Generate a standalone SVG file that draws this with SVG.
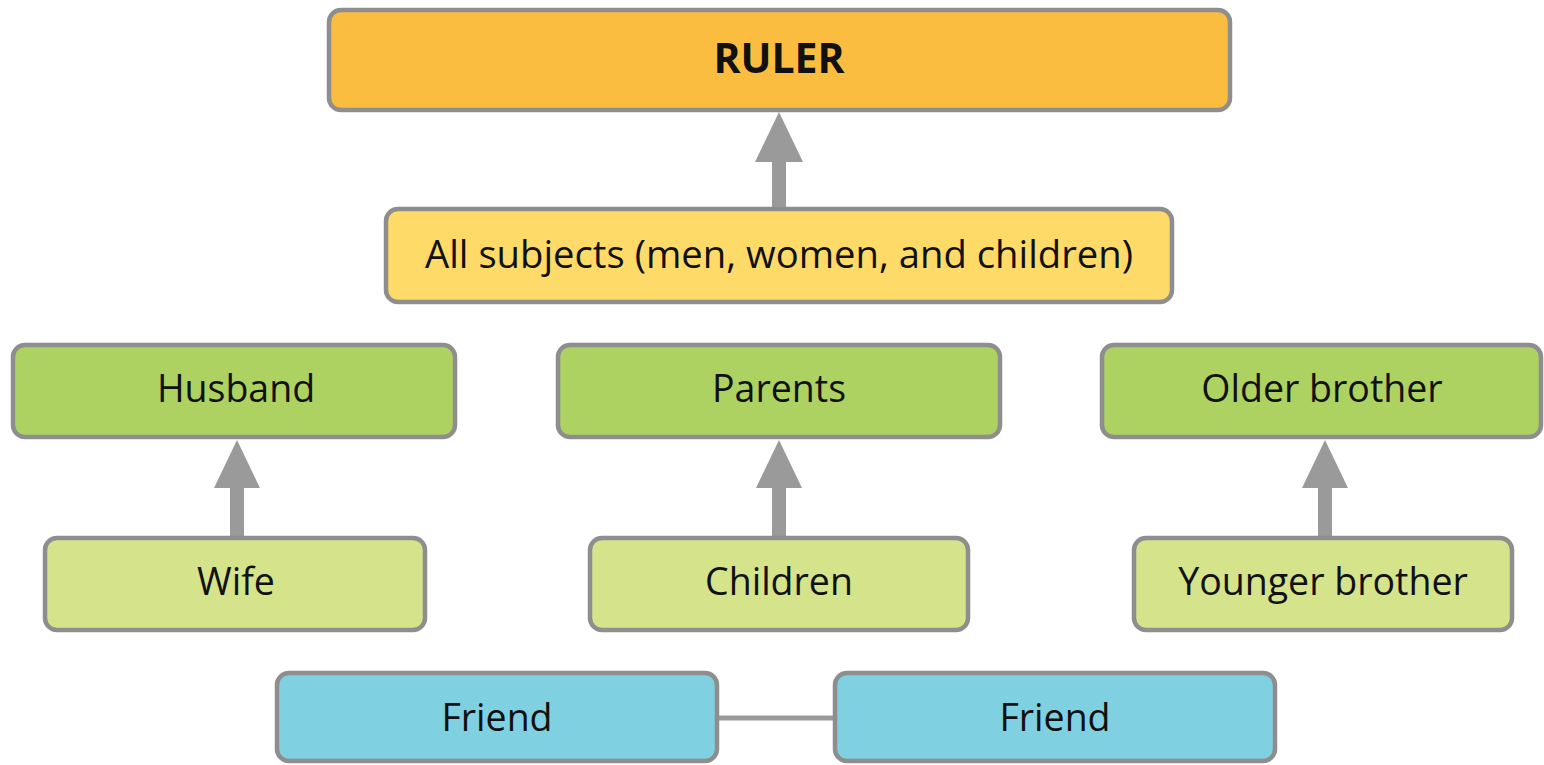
<svg xmlns="http://www.w3.org/2000/svg" width="1544" height="765" viewBox="0 0 1544 765">
<style>
.box{stroke:#8e8e8e;stroke-width:4.5}
.t{font-family:"Open Sans","Noto Sans","Liberation Sans",sans-serif;font-size:37.5px;fill:#111;text-anchor:middle}
.b{font-weight:bold;font-size:41px}
.ruler{fill:#fbbd40}
.subj{fill:#fedb69}
.g1{fill:#add262}
.g2{fill:#d5e38b}
.blue{fill:#7fd0e0}
.arr{fill:#9a9a9a}
</style>
<rect width="1544" height="765" fill="#fff"/>
<g id="connectors">
  <g class="arr">
    <rect x="772" y="150" width="14" height="60"/><polygon points="779,112 755,162 803,162"/>
    <rect x="230" y="478" width="14" height="60"/><polygon points="237,440 214,488 260,488"/>
    <rect x="772" y="478" width="14" height="60"/><polygon points="779,440 756,488 802,488"/>
    <rect x="1318" y="478" width="14" height="60"/><polygon points="1325,440 1302,488 1348,488"/>
  </g>
  <line x1="717" y1="718" x2="835" y2="718" stroke="#9a9a9a" stroke-width="5"/>
</g>
<g id="ruler"><rect class="box ruler" x="329" y="10" width="901" height="100" rx="12"/><text class="t b" x="779" y="73">RULER</text></g>
<g id="subjects"><rect class="box subj" x="386" y="209" width="786" height="93" rx="12"/><text class="t" x="779" y="268" textLength="708" lengthAdjust="spacingAndGlyphs">All subjects (men, women, and children)</text></g>
<g id="husband"><rect class="box g1" x="13" y="345" width="442" height="92" rx="12"/><text class="t" x="236" y="402">Husband</text></g>
<g id="wife"><rect class="box g2" x="45" y="538" width="380" height="92" rx="12"/><text class="t" x="236" y="595">Wife</text></g>
<g id="parents"><rect class="box g1" x="558" y="345" width="442" height="92" rx="12"/><text class="t" x="779" y="402">Parents</text></g>
<g id="children"><rect class="box g2" x="590" y="538" width="378" height="92" rx="12"/><text class="t" x="779" y="595">Children</text></g>
<g id="older"><rect class="box g1" x="1102" y="345" width="439" height="92" rx="12"/><text class="t" x="1322" y="402">Older brother</text></g>
<g id="younger"><rect class="box g2" x="1134" y="538" width="378" height="92" rx="12"/><text class="t" x="1323" y="595">Younger brother</text></g>
<g id="friend1"><rect class="box blue" x="277" y="673" width="440" height="88" rx="12"/><text class="t" x="497" y="731">Friend</text></g>
<g id="friend2"><rect class="box blue" x="835" y="673" width="440" height="88" rx="12"/><text class="t" x="1055" y="731">Friend</text></g>
</svg>
